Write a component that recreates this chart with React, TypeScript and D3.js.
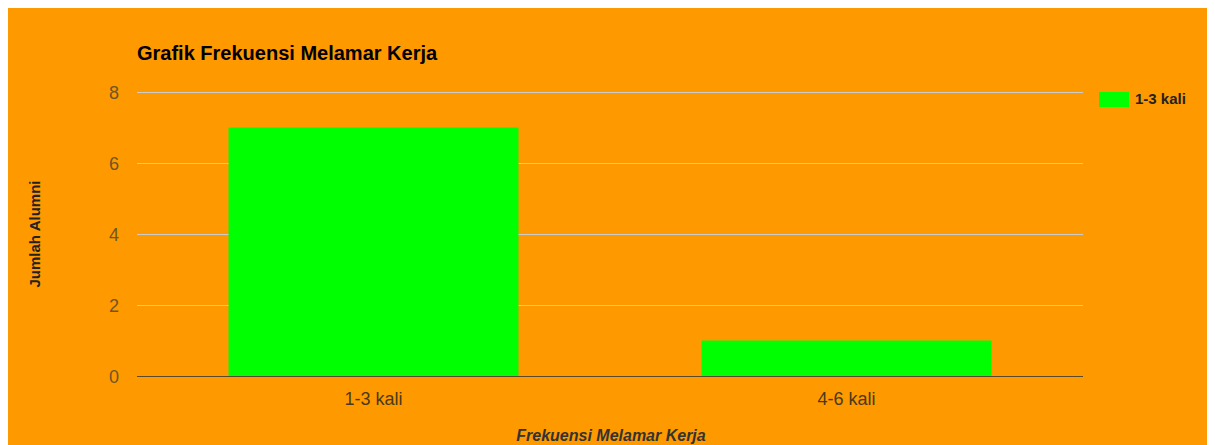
import React, { useRef, useEffect } from 'react';
import * as d3 from 'd3';

const categories = ['1-3 kali', '4-6 kali'];
const values = [7, 1];
const yTicks = [0, 2, 4, 6, 8];
const seriesName = '1-3 kali';

const W = 1200;
const H = 440;

const App = () => {
  const ref = useRef<SVGSVGElement>(null);

  useEffect(() => {
    const svg = d3.select(ref.current);
    svg.selectAll('*').remove();

    const font = 'Arial, "Liberation Sans", sans-serif';
    const left = 129, right = 1075, top = 84, bottom = 368;

    svg.append('rect').attr('width', W).attr('height', H).attr('fill', '#ff9900');

    const x = d3.scaleBand().domain(categories).range([left, right]).paddingInner(0.387).paddingOuter(0.1935);
    const y = d3.scaleLinear().domain([0, 8]).range([bottom, top]);

    // gridlines
    svg.append('g')
      .selectAll('line')
      .data(yTicks.filter(t => t !== 0))
      .enter()
      .append('line')
      .attr('x1', left).attr('x2', right)
      .attr('y1', d => y(d) + 0.5).attr('y2', d => y(d) + 0.5)
      .attr('stroke', '#cccccc');

    // y tick labels
    svg.append('g')
      .selectAll('text')
      .data(yTicks)
      .enter()
      .append('text')
      .attr('x', left - 18)
      .attr('y', d => y(d) + 6.5)
      .attr('text-anchor', 'end')
      .attr('font-family', font)
      .attr('font-size', 18)
      .attr('fill', '#6e5628')
      .text(d => d);

    // bars
    svg.selectAll('.bar')
      .data(values)
      .enter()
      .append('rect')
      .attr('class', 'bar')
      .attr('x', (d, i) => x(categories[i])!)
      .attr('y', d => y(d))
      .attr('width', x.bandwidth())
      .attr('height', d => bottom - y(d))
      .attr('fill', '#00ff00');

    // baseline
    svg.append('line')
      .attr('x1', left).attr('x2', right)
      .attr('y1', bottom + 0.5).attr('y2', bottom + 0.5)
      .attr('stroke', '#5a4a2a')
      .attr('stroke-width', 1.2);

    // x tick labels
    svg.append('g')
      .selectAll('text')
      .data(categories)
      .enter()
      .append('text')
      .attr('x', d => x(d)! + x.bandwidth() / 2)
      .attr('y', bottom + 29)
      .attr('text-anchor', 'middle')
      .attr('font-family', font)
      .attr('font-size', 18)
      .attr('fill', '#4a3a1c')
      .text(d => d);

    // title
    svg.append('text')
      .attr('x', left)
      .attr('y', 52)
      .attr('font-family', font)
      .attr('font-size', 20)
      .attr('font-weight', 'bold')
      .attr('fill', '#000')
      .text('Grafik Frekuensi Melamar Kerja');

    // axis titles
    svg.append('text')
      .attr('transform', `translate(32, ${(top + bottom) / 2}) rotate(-90)`)
      .attr('text-anchor', 'middle')
      .attr('font-family', font)
      .attr('font-size', 15)
      .attr('font-weight', 'bold')
      .attr('fill', '#222')
      .text('Jumlah Alumni');

    svg.append('text')
      .attr('x', 603)
      .attr('y', 433)
      .attr('text-anchor', 'middle')
      .attr('font-family', font)
      .attr('font-size', 16)
      .attr('font-weight', 'bold')
      .attr('font-style', 'italic')
      .attr('fill', '#333')
      .text('Frekuensi Melamar Kerja');

    // legend
    const lg = svg.append('g');
    lg.append('rect')
      .attr('x', 1091).attr('y', 84)
      .attr('width', 30).attr('height', 15)
      .attr('fill', '#00ff00');
    lg.append('text')
      .attr('x', 1127).attr('y', 96)
      .attr('font-family', font)
      .attr('font-size', 15)
      .attr('font-weight', 'bold')
      .attr('fill', '#222')
      .text(seriesName);
  }, []);

  return <svg ref={ref} width={W} height={H} style={{ display: 'block' }}></svg>;
};

export default App;
